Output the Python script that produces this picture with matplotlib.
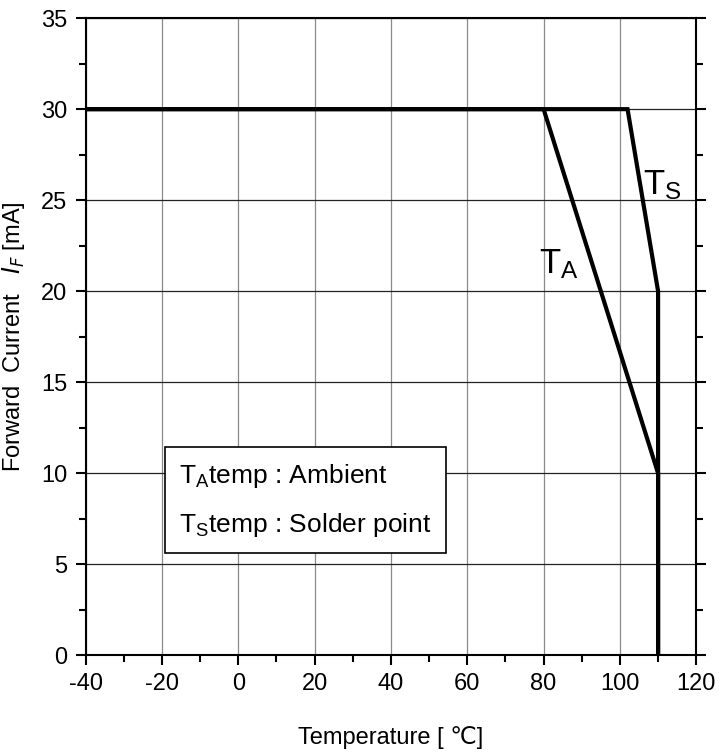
import matplotlib
matplotlib.use("Agg")
import matplotlib.pyplot as plt
from matplotlib.ticker import MultipleLocator

plt.rcParams['font.family'] = ['Liberation Sans', 'DejaVu Sans']
plt.rcParams['axes.unicode_minus'] = False

# derating curves (temperature in degC, current in mA)
ta_temp = [-40, 80, 110, 110]
ta_curr = [30, 30, 10, 0]
ts_temp = [-40, 102, 110, 110]
ts_curr = [30, 30, 20, 0]

fig = plt.figure(figsize=(7.2, 7.55), dpi=100)
ax = fig.add_axes([0.119, 0.132, 0.848, 0.844])

ax.plot(ts_temp, ts_curr, color='black', lw=3.0, solid_joinstyle='miter', zorder=3)
ax.plot(ta_temp, ta_curr, color='black', lw=3.0, solid_joinstyle='miter', zorder=3)

ax.set_xlim(-40, 120)
ax.set_ylim(0, 35)
ax.xaxis.set_major_locator(MultipleLocator(20))
ax.xaxis.set_minor_locator(MultipleLocator(10))
ax.yaxis.set_major_locator(MultipleLocator(5))
ax.yaxis.set_minor_locator(MultipleLocator(2.5))
ax.grid(True, axis='x', which='major', color='#8a8a8a', lw=0.9)
ax.grid(True, axis='y', which='major', color='#222222', lw=0.9)
ax.set_axisbelow(True)
ax.tick_params(which='both', direction='out', labelsize=17, width=1.5)
ax.tick_params(which='major', length=7, pad=6)
ax.tick_params(which='minor', length=5)
ax.tick_params(which='both', right=True, top=False)
for s in ax.spines.values():
    s.set_linewidth(1.5)

ax.set_xlabel('Temperature [ \u2103]', fontsize=17, labelpad=22)
ax.set_ylabel('Forward  Current   $\\mathit{I_F}$ [mA]', fontsize=17, labelpad=10)

ax.text(84, 21.0, '$\\mathregular{T_A}$', fontsize=25, ha='center')
ax.text(111, 25.3, '$\\mathregular{T_S}$', fontsize=25, ha='center')

ax.text(-15.5, 6.4, '$\\mathregular{T_A}$temp : Ambient\n$\\mathregular{T_S}$temp : Solder point',
        fontsize=19, va='bottom', ha='left', linespacing=2.0,
        bbox=dict(boxstyle='square,pad=0.55', fc='white', ec='black', lw=1.2))

fig.savefig('out.png', dpi=100)
